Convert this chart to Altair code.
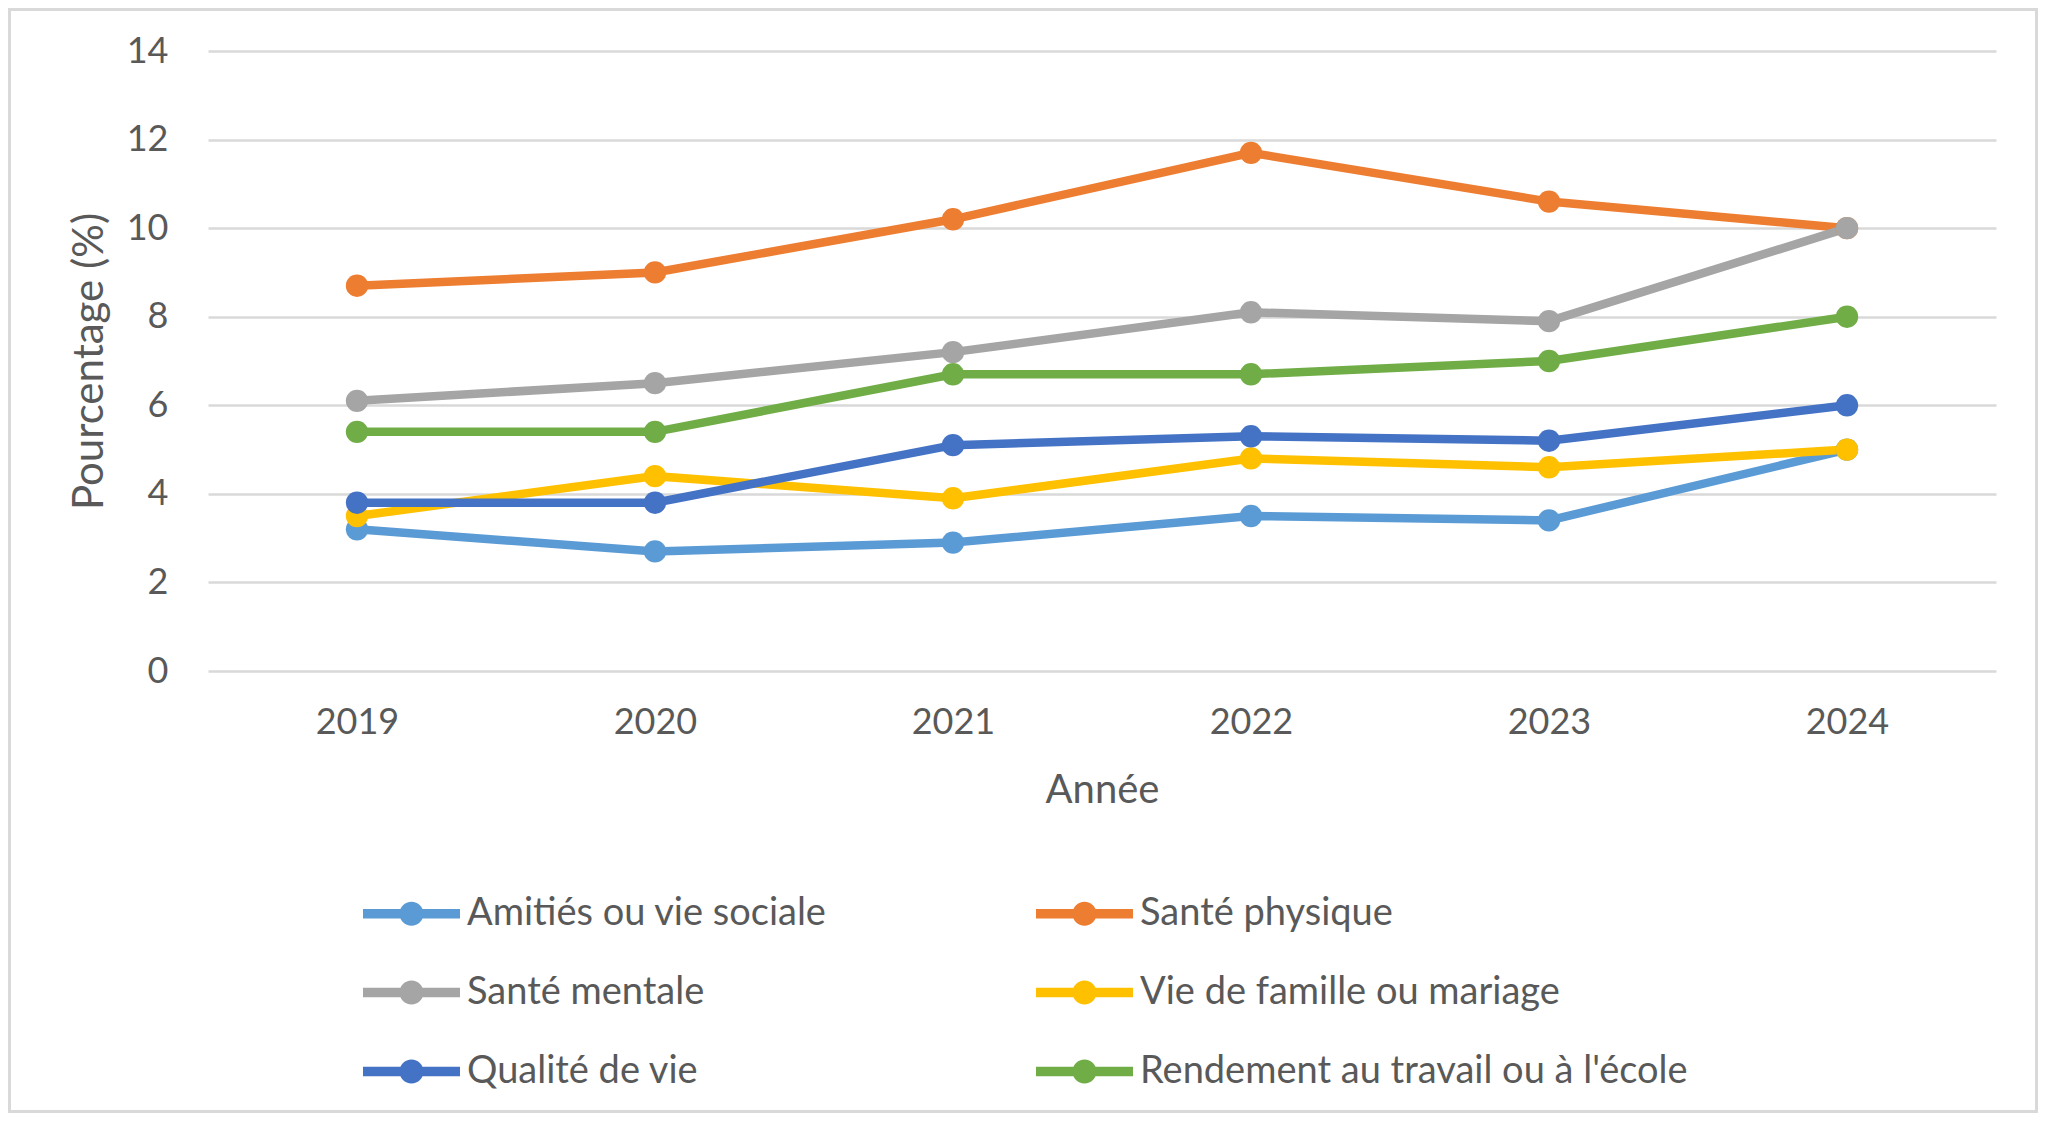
import altair as alt
import pandas as pd

years = ["2019", "2020", "2021", "2022", "2023", "2024"]
series = [
    "Amitiés ou vie sociale",
    "Santé physique",
    "Santé mentale",
    "Vie de famille ou mariage",
    "Qualité de vie",
    "Rendement au travail ou à l'école",
]
amities = [3.2, 2.7, 2.9, 3.5, 3.4, 5.0]
sante_physique = [8.7, 9.0, 10.2, 11.7, 10.6, 10.0]
sante_mentale = [6.1, 6.5, 7.2, 8.1, 7.9, 10.0]
vie_famille = [3.5, 4.4, 3.9, 4.8, 4.6, 5.0]
qualite_vie = [3.8, 3.8, 5.1, 5.3, 5.2, 6.0]
rendement = [5.4, 5.4, 6.7, 6.7, 7.0, 8.0]
colors = ["#5B9BD5", "#ED7D31", "#A5A5A5", "#FFC000", "#4472C4", "#70AD47"]
y_ticks = [0, 2, 4, 6, 8, 10, 12, 14]

values = [amities, sante_physique, sante_mentale, vie_famille, qualite_vie, rendement]
rows = []
for s, vals in zip(series, values):
    for yr, v in zip(years, vals):
        rows.append({"Année": yr, "Pourcentage": v, "Série": s})
df = pd.DataFrame(rows)

W, H = 1788, 620
PAD = {"left": 200, "top": 43, "right": 42, "bottom": 442}
TEXT = "#595959"
FONT = "Lato"

legend_symbol = (
    "M-1,-0.1 L1,-0.1 L1,0.1 L-1,0.1 Z "
    "M-0.247,0 A0.247,0.247 0 1,1 0.247,0 A0.247,0.247 0 1,1 -0.247,0 Z"
)

color_scale = alt.Scale(domain=series, range=colors)

x_enc = alt.X(
    "Année:O",
    sort=years,
    scale=alt.Scale(type="point", padding=0.5),
    title="Année",
    axis=alt.Axis(
        domain=False, ticks=False, tickSize=0, grid=False,
        labelPadding=51, labelBaseline="middle", labelAngle=0,
        labelFont=FONT, labelFontSize=36, labelColor=TEXT,
        titleFont=FONT, titleFontSize=40, titleColor=TEXT, titleFontWeight="normal",
        titleX=W / 2, titleY=119, titleBaseline="middle", titleAlign="center",
    ),
)
y_enc = alt.Y(
    "Pourcentage:Q",
    scale=alt.Scale(domain=[0, 14], nice=False),
    title="Pourcentage (%)",
    axis=alt.Axis(
        values=y_ticks, domain=False, ticks=False, tickSize=0,
        grid=True, gridColor="#D9D9D9", gridWidth=2.5,
        labelPadding=40, labelFont=FONT, labelFontSize=36, labelColor=TEXT,
        titleFont=FONT, titleFontSize=42, titleColor=TEXT, titleFontWeight="normal",
        titleX=-119, titleY=H / 2, titleAngle=270, titleBaseline="middle", titleAlign="center",
    ),
)

lines = alt.Chart(df).mark_line(strokeWidth=8.5).encode(
    x=x_enc,
    y=y_enc,
    color=alt.Color("Série:N", scale=color_scale, sort=series, legend=None),
    detail="Série:N",
)

points = alt.Chart(df).mark_point(filled=True, size=500, opacity=1).encode(
    x=x_enc,
    y=y_enc,
    color=alt.Color(
        "Série:N",
        scale=color_scale,
        sort=series,
        title=None,
        legend=alt.Legend(
            orient="none", legendX=155, legendY=814, columns=2, direction="horizontal",
            symbolType=legend_symbol, symbolSize=9409, symbolStrokeWidth=0,
            symbolOpacity=1, labelFont=FONT, labelFontSize=38, labelColor=TEXT,
            labelOffset=7, columnPadding=209, rowPadding=11, labelLimit=0, padding=0,
        ),
    ),
)

border = alt.Chart(pd.DataFrame({"k": [0]})).mark_rect(
    filled=False, stroke="#D9D9D9", strokeWidth=3
).encode(
    x=alt.value(-PAD["left"] + 1.5),
    x2=alt.value(W + PAD["right"] - 1.5),
    y=alt.value(-PAD["top"] + 1.5),
    y2=alt.value(H + PAD["bottom"] - 1.5),
)

chart = alt.layer(border, lines, points).resolve_legend(
    color="independent"
).properties(
    width=W,
    height=H,
    autosize=alt.AutoSizeParams(type="none"),
    padding=PAD,
    background="white",
).configure_view(stroke=None)

chart.save("out.html", embed_options={"renderer": "svg", "actions": False})
